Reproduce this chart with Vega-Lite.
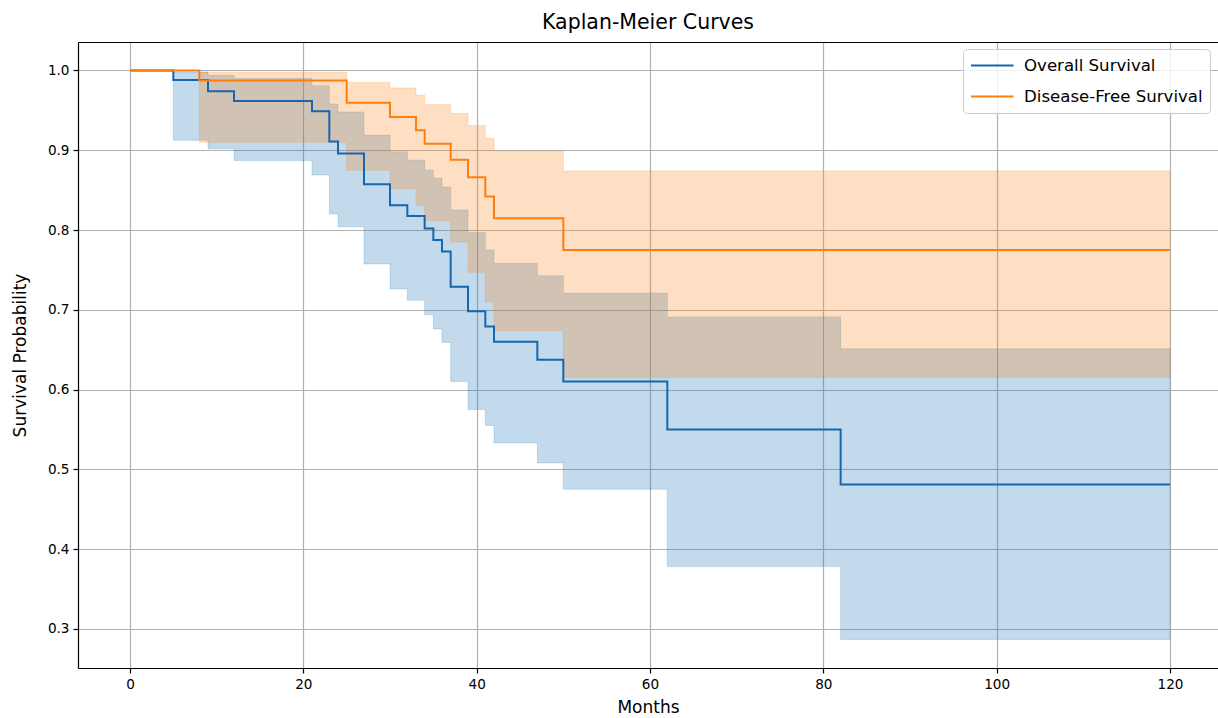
{
  "$schema": "https://vega.github.io/schema/vega-lite/v6.json",
  "width": 1140,
  "height": 626,
  "autosize": {"type": "none"},
  "padding": {"left": 78, "top": 42, "right": 0, "bottom": 50},
  "background": "white",
  "title": {"text": "Kaplan-Meier Curves", "font": "DejaVu Sans", "fontSize": 20.5, "fontWeight": "normal", "color": "black", "offset": 9},
  "config": {
    "view": {"stroke": null},
    "axis": {
      "labelFont": "DejaVu Sans", "titleFont": "DejaVu Sans",
      "labelFontSize": 13.6, "titleFontSize": 17, "titleFontWeight": "normal",
      "labelColor": "black", "titleColor": "black",
      "tickColor": "black", "domainColor": "black", "domainWidth": 1.2,
      "tickSize": 5, "tickWidth": 1.2, "labelPadding": 4,
      "gridColor": "#b0b0b0", "gridWidth": 1.2, "gridOpacity": 1
    }
  },
  "resolve": {"axis": {"x": "independent"}},
  "data": {
    "values": [
      {"t": 0, "series": "Overall Survival", "S": 1.0, "lo": 1.0, "hi": 1.0},
      {"t": 5, "series": "Overall Survival", "S": 0.988, "lo": 0.9125, "hi": 0.998},
      {"t": 9, "series": "Overall Survival", "S": 0.974, "lo": 0.902, "hi": 0.994},
      {"t": 12, "series": "Overall Survival", "S": 0.9617, "lo": 0.887, "hi": 0.99},
      {"t": 21, "series": "Overall Survival", "S": 0.949, "lo": 0.869, "hi": 0.981},
      {"t": 23, "series": "Overall Survival", "S": 0.911, "lo": 0.82, "hi": 0.958},
      {"t": 24, "series": "Overall Survival", "S": 0.896, "lo": 0.804, "hi": 0.948},
      {"t": 27, "series": "Overall Survival", "S": 0.8575, "lo": 0.7575, "hi": 0.919},
      {"t": 30, "series": "Overall Survival", "S": 0.831, "lo": 0.726, "hi": 0.898},
      {"t": 32, "series": "Overall Survival", "S": 0.8175, "lo": 0.712, "hi": 0.8875},
      {"t": 34, "series": "Overall Survival", "S": 0.802, "lo": 0.694, "hi": 0.875},
      {"t": 35, "series": "Overall Survival", "S": 0.7875, "lo": 0.676, "hi": 0.865},
      {"t": 36, "series": "Overall Survival", "S": 0.773, "lo": 0.659, "hi": 0.854},
      {"t": 37, "series": "Overall Survival", "S": 0.729, "lo": 0.61, "hi": 0.825},
      {"t": 39, "series": "Overall Survival", "S": 0.698, "lo": 0.575, "hi": 0.797},
      {"t": 41, "series": "Overall Survival", "S": 0.679, "lo": 0.555, "hi": 0.775},
      {"t": 42, "series": "Overall Survival", "S": 0.66, "lo": 0.533, "hi": 0.758},
      {"t": 47, "series": "Overall Survival", "S": 0.6375, "lo": 0.508, "hi": 0.7425},
      {"t": 50, "series": "Overall Survival", "S": 0.61, "lo": 0.475, "hi": 0.721},
      {"t": 62, "series": "Overall Survival", "S": 0.55, "lo": 0.378, "hi": 0.691},
      {"t": 82, "series": "Overall Survival", "S": 0.481, "lo": 0.2866, "hi": 0.651},
      {"t": 120, "series": "Overall Survival", "S": 0.481, "lo": 0.2866, "hi": 0.651},
      {"t": 0, "series": "Disease-Free Survival", "S": 1.0, "lo": 1.0, "hi": 1.0},
      {"t": 8, "series": "Disease-Free Survival", "S": 0.9875, "lo": 0.91, "hi": 0.998},
      {"t": 25, "series": "Disease-Free Survival", "S": 0.9596, "lo": 0.875, "hi": 0.985},
      {"t": 30, "series": "Disease-Free Survival", "S": 0.9417, "lo": 0.852, "hi": 0.978},
      {"t": 33, "series": "Disease-Free Survival", "S": 0.925, "lo": 0.831, "hi": 0.969},
      {"t": 34, "series": "Disease-Free Survival", "S": 0.908, "lo": 0.812, "hi": 0.9575},
      {"t": 37, "series": "Disease-Free Survival", "S": 0.888, "lo": 0.785, "hi": 0.946},
      {"t": 39, "series": "Disease-Free Survival", "S": 0.866, "lo": 0.747, "hi": 0.931},
      {"t": 41, "series": "Disease-Free Survival", "S": 0.842, "lo": 0.71, "hi": 0.915},
      {"t": 42, "series": "Disease-Free Survival", "S": 0.8146, "lo": 0.674, "hi": 0.899},
      {"t": 50, "series": "Disease-Free Survival", "S": 0.775, "lo": 0.615, "hi": 0.874},
      {"t": 120, "series": "Disease-Free Survival", "S": 0.775, "lo": 0.615, "hi": 0.874}
    ]
  },
  "layer": [
    {
      "transform": [{"filter": "datum.series === 'Overall Survival'"}],
      "mark": {"type": "area", "interpolate": "step-after", "color": "#1f77b4", "fillOpacity": 0.27, "stroke": "#1f77b4", "strokeOpacity": 0.2, "strokeWidth": 1},
      "encoding": {
        "x": {"field": "t", "type": "quantitative", "scale": {"domain": [-6, 125.54], "nice": false, "zero": false}, "axis": {"values": [0, 20, 40, 60, 80, 100, 120], "format": "d", "title": "Months", "titlePadding": 9, "labelFlush": false}},
        "y": {"field": "lo", "type": "quantitative", "scale": {"domain": [0.2509, 1.0357], "nice": false, "zero": false}, "axis": {"values": [0.3, 0.4, 0.5, 0.6, 0.7, 0.8, 0.9, 1.0], "format": ".1f", "title": "Survival Probability", "titlePadding": 18}},
        "y2": {"field": "hi"}
      }
    },
    {
      "transform": [{"filter": "datum.series === 'Disease-Free Survival'"}],
      "mark": {"type": "area", "interpolate": "step-after", "color": "#ff7f0e", "fillOpacity": 0.25, "stroke": "#ff7f0e", "strokeOpacity": 0.2, "strokeWidth": 1},
      "encoding": {
        "x": {"field": "t", "type": "quantitative", "axis": {"orient": "top", "labels": false, "ticks": false, "grid": false, "title": null, "domain": true}},
        "y": {"field": "lo", "type": "quantitative"},
        "y2": {"field": "hi"}
      }
    },
    {
      "mark": {"type": "line", "interpolate": "step-after", "strokeWidth": 2},
      "encoding": {
        "x": {"field": "t", "type": "quantitative", "axis": null},
        "y": {"field": "S", "type": "quantitative"},
        "color": {
          "field": "series", "type": "nominal",
          "scale": {"domain": ["Overall Survival", "Disease-Free Survival"], "range": ["#1666b0", "#ff7f0e"]},
          "legend": {
            "orient": "none", "legendX": 885, "legendY": 7, "title": null,
            "symbolType": "M-1,0H4", "symbolSize": 289, "symbolStrokeWidth": 2,
            "labelFont": "DejaVu Sans", "labelFontSize": 16.6, "labelColor": "black", "labelLimit": 400,
            "labelOffset": 35, "rowPadding": 12, "padding": 7,
            "strokeColor": "#cccccc", "fillColor": "rgba(255,255,255,0.8)", "cornerRadius": 4
          }
        }
      }
    }
  ]
}
